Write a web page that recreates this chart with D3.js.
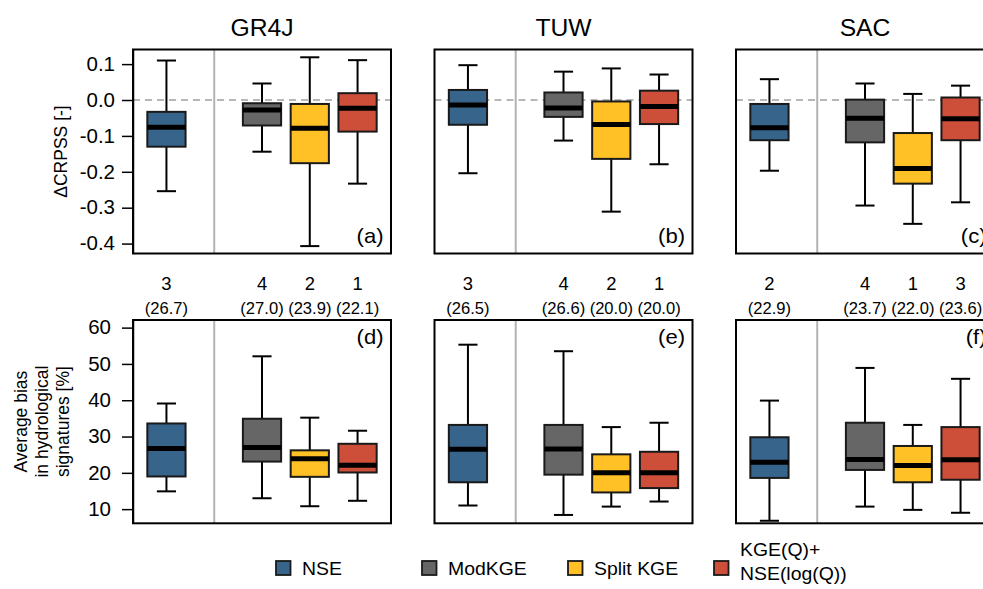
<!DOCTYPE html>
<html>
<head>
<meta charset="utf-8">
<script src="https://cdn.jsdelivr.net/npm/d3@7"></script>
<style>
  body { margin: 0; background: #fff; }
  svg { display: block; font-family: "Liberation Sans", Arial, Helvetica, sans-serif; }
</style>
</head>
<body>
<svg id="chart" width="983" height="589"></svg>
<script>
/* Models (one column of panels each) and calibration objectives (one box each). */
var models = ["GR4J", "TUW", "SAC"];
var objectives = ["NSE", "ModKGE", "Split KGE", "KGE(Q)+\nNSE(log(Q))"];
var palette = ["#36648B", "#666666", "#FFC125", "#CD4F39"];

/* Box statistics, one row per objective: [lower whisker, Q1, median, Q3, upper whisker]. */
var crpssGR4J = [
  [-0.254, -0.130, -0.076, -0.033, 0.110],
  [-0.144, -0.071, -0.028, -0.009, 0.046],
  [-0.407, -0.176, -0.079, -0.011, 0.119],
  [-0.233, -0.088, -0.023,  0.019, 0.111]
];
var crpssTUW = [
  [-0.204, -0.069, -0.014,  0.028, 0.097],
  [-0.113, -0.047, -0.022,  0.021, 0.079],
  [-0.311, -0.164, -0.068, -0.004, 0.088],
  [-0.179, -0.067, -0.018,  0.026, 0.071]
];
var crpssSAC = [
  [-0.197, -0.112, -0.077, -0.011, 0.058],
  [-0.294, -0.118, -0.051,  0.001, 0.046],
  [-0.345, -0.233, -0.191, -0.092, 0.017],
  [-0.285, -0.112, -0.052,  0.007, 0.040]
];

var biasGR4J = [
  [14.9, 19.0, 26.7, 33.6, 39.1],
  [13.0, 23.1, 27.0, 34.9, 52.1],
  [10.8, 18.9, 23.9, 26.2, 35.2],
  [12.3, 20.1, 22.1, 28.0, 31.6]
];
var biasTUW = [
  [11.0, 17.4, 26.5, 33.2, 55.3],
  [ 8.4, 19.5, 26.6, 33.2, 53.5],
  [10.7, 14.6, 20.0, 25.1, 32.6],
  [12.1, 15.8, 20.0, 25.8, 33.8]
];
var biasSAC = [
  [ 6.8, 18.6, 22.9, 29.8, 39.9],
  [10.7, 20.8, 23.7, 33.8, 48.9],
  [ 9.8, 17.4, 22.0, 27.4, 33.2],
  [ 9.0, 18.1, 23.6, 32.6, 45.9]
];

/* Rank of each objective by bias, per model. */
var biasRanks = [[3, 4, 2, 1], [3, 4, 2, 1], [2, 4, 1, 3]];

var crpssTicks = [0.1, 0, -0.1, -0.2, -0.3, -0.4];
var biasTicks = [10, 20, 30, 40, 50, 60];

/* ---- layout ---- */
var svg = d3.select("#chart");
var SX = 1.05;                      // glyphs in the source are a little wide
var panelW = 258,
    panelLeft = [133, 434.5, 736],
    boxAt = [1, 3, 4, 5];

var rows = [
  {top: 49.5, bottom: 253.5, domain: [-0.4276, 0.1407], stats: [crpssGR4J, crpssTUW, crpssSAC],
   ticks: crpssTicks, fmt: ".1f", labelGap: 18, letters: ["(a)", "(b)", "(c)"], letterY: 243, zero: true},
  {top: 320, bottom: 523.3, domain: [6.1, 62.1], stats: [biasGR4J, biasTUW, biasSAC],
   ticks: biasTicks, fmt: "d", labelGap: 22, letters: ["(d)", "(e)", "(f)"], letterY: 343.5, zero: false}
];

function label(sel, x, y, str, size, anchor) {
  return sel.append("text")
    .attr("transform", "translate(" + x + "," + y + ") scale(" + SX + ",1)")
    .attr("text-anchor", anchor || "middle")
    .style("font-size", size + "px")
    .attr("fill", "#000")
    .text(str);
}

rows.forEach(function(row, r) {
  var y = d3.scaleLinear().domain(row.domain).range([row.bottom, row.top]);

  models.forEach(function(model, m) {
    var left = panelLeft[m];
    var x = d3.scaleLinear().domain([0.3, 5.7]).range([left, left + panelW]);
    var bw = (x(1) - x(0)) * 0.8;
    var g = svg.append("g").attr("class", "panel");

    /* Divider between benchmark and the other objectives */
    g.append("line")
      .attr("x1", x(2)).attr("x2", x(2))
      .attr("y1", row.top).attr("y2", row.bottom)
      .attr("stroke", "#b3b3b3").attr("stroke-width", 2);

    if (row.zero) {
      g.append("line")
        .attr("x1", left).attr("x2", left + panelW)
        .attr("y1", y(0)).attr("y2", y(0))
        .attr("stroke", "#a0a0a0").attr("stroke-width", 1.6)
        .attr("stroke-dasharray", "7,5");
    }

    var boxes = g.selectAll("g.box")
      .data(row.stats[m].map(function(s, i) { return {s: s, i: i}; }))
      .join("g")
      .attr("class", "box");

    boxes.append("line")
      .attr("x1", function(d) { return x(boxAt[d.i]); })
      .attr("x2", function(d) { return x(boxAt[d.i]); })
      .attr("y1", function(d) { return y(d.s[0]); })
      .attr("y2", function(d) { return y(d.s[4]); })
      .attr("stroke", "#000").attr("stroke-width", 2);

    [0, 4].forEach(function(k) {
      boxes.append("line")
        .attr("x1", function(d) { return x(boxAt[d.i]) - bw / 4; })
        .attr("x2", function(d) { return x(boxAt[d.i]) + bw / 4; })
        .attr("y1", function(d) { return y(d.s[k]); })
        .attr("y2", function(d) { return y(d.s[k]); })
        .attr("stroke", "#000").attr("stroke-width", 2);
    });

    boxes.append("rect")
      .attr("x", function(d) { return x(boxAt[d.i]) - bw / 2; })
      .attr("width", bw)
      .attr("y", function(d) { return y(d.s[3]); })
      .attr("height", function(d) { return y(d.s[1]) - y(d.s[3]); })
      .attr("fill", function(d) { return palette[d.i]; })
      .attr("stroke", "#1a1a1a").attr("stroke-width", 2);

    boxes.append("line")
      .attr("x1", function(d) { return x(boxAt[d.i]) - bw / 2; })
      .attr("x2", function(d) { return x(boxAt[d.i]) + bw / 2; })
      .attr("y1", function(d) { return y(d.s[2]); })
      .attr("y2", function(d) { return y(d.s[2]); })
      .attr("stroke", "#000").attr("stroke-width", 5);

    /* Frame */
    g.append("rect")
      .attr("x", left).attr("y", row.top)
      .attr("width", panelW).attr("height", row.bottom - row.top)
      .attr("fill", "none").attr("stroke", "#000").attr("stroke-width", 2);

    label(g, left + panelW - 7.5, row.letterY, row.letters[m], 21, "end");

    if (r === 0) {
      label(svg, left + panelW / 2, 35.5, model, 23.5);
    } else {
      /* Ranks and median bias above the lower panels */
      row.stats[m].forEach(function(s, i) {
        label(svg, x(boxAt[i]), 290, String(biasRanks[m][i]), 17.5);
        label(svg, x(boxAt[i]), 314, "(" + d3.format(".1f")(s[2]) + ")", 15.8);
      });
    }

    if (m === 0) {
      var axis = d3.axisLeft(y)
        .tickValues(row.ticks)
        .tickSize(11)
        .tickSizeOuter(0)
        .tickFormat(function(v) { return d3.format(row.fmt)(v).replace("\u2212", "-"); });
      var ag = svg.append("g")
        .attr("transform", "translate(" + left + ",0)")
        .call(axis)
        .attr("font-size", null)
        .attr("font-family", null);
      ag.select(".domain").attr("stroke-width", 1.5);
      ag.selectAll(".tick line").attr("stroke-width", 1.5).attr("stroke", "#000");
      ag.selectAll(".tick text")
        .attr("x", null)
        .attr("transform", "translate(" + (-row.labelGap) + ",0) scale(" + SX + ",1)")
        .attr("fill", "#000")
        .style("font-size", "19.5px");
    }
  });
});

/* Y-axis titles */
svg.append("text")
  .attr("transform", "translate(67,151.5) rotate(-90)")
  .attr("text-anchor", "middle")
  .style("font-size", "17.5px")
  .text("\u0394CRPSS [-]");

["Average bias", "in hydrological", "signatures [%]"].forEach(function(line, i) {
  svg.append("text")
    .attr("transform", "translate(" + (26.5 + i * 21) + ",421.6) rotate(-90)")
    .attr("text-anchor", "middle")
    .style("font-size", "17.5px")
    .text(line);
});

/* Legend */
var legend = svg.append("g").attr("class", "legend");
objectives.forEach(function(name, i) {
  var lx = 276 + i * 146;
  legend.append("rect")
    .attr("x", lx).attr("y", 561)
    .attr("width", 14.5).attr("height", 14)
    .attr("fill", palette[i])
    .attr("stroke", "#1a1a1a").attr("stroke-width", 1.8);
  var lines = name.split("\n");
  lines.forEach(function(t, j) {
    var by = lines.length === 1 ? 574.5 : 556 + j * 24;
    label(legend, lx + 26, by, t, 18.5, "start");
  });
});
</script>
</body>
</html>
